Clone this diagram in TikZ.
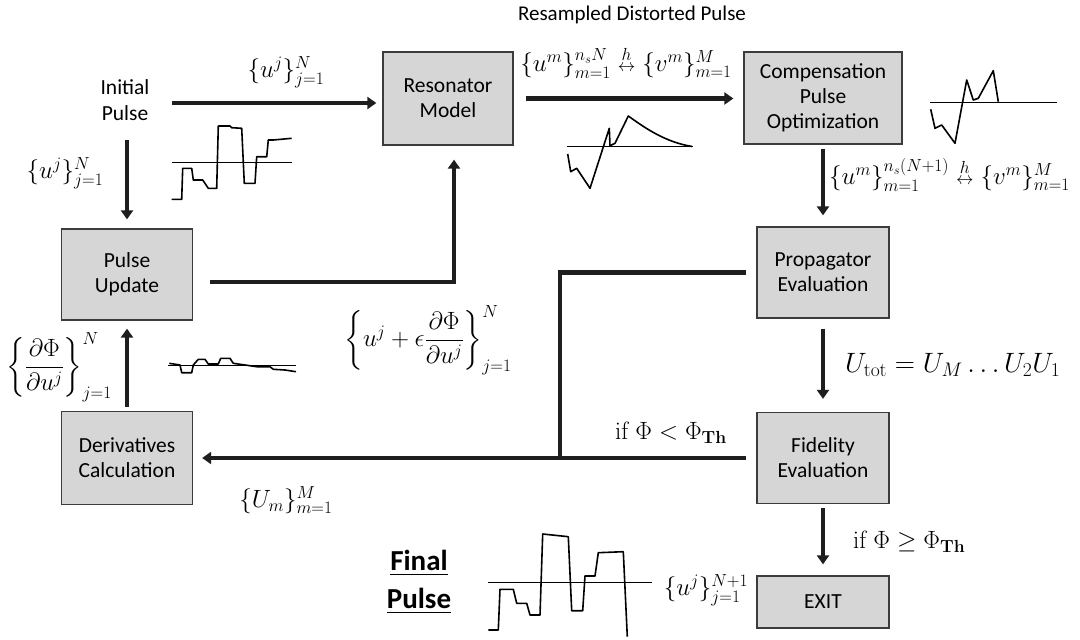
\RequirePackage{fix-cm}
\documentclass[tikz,border=0pt]{standalone}
\usepackage{amsmath}
\usepackage[no-math]{fontspec}
\setmainfont{Carlito}
\usetikzlibrary{arrows.meta}
\definecolor{boxgray}{RGB}{214,214,214}
\definecolor{boxline}{RGB}{60,60,60}
\definecolor{arrowc}{RGB}{30,30,30}
\begin{document}
\begin{tikzpicture}[x=1pt,y=-1pt,
  box/.style={draw=boxline, line width=1.3pt, fill=boxgray, align=center,
    font=\fontsize{21.5}{25}\selectfont, inner sep=0pt},
  flow/.style={line width=4.5pt, draw=arrowc, -{Triangle[width=12pt,length=9pt]}},
  wire/.style={line width=4.5pt, draw=arrowc},
  pulse/.style={line width=1.6pt, line join=round},
  axis/.style={line width=1pt},
  mlab/.style={font=\fontsize{25}{29}\selectfont, inner sep=0pt},
  slab/.style={font=\fontsize{21.5}{25}\selectfont, align=center, inner sep=0pt}
]
\useasboundingbox (0,0) rectangle (1080,640);

% boxes
\node[box, minimum width=130pt, minimum height=93pt] (res) at (448,98.5) {Resonator\\Model};
\node[box, minimum width=158pt, minimum height=92pt] (comp) at (823,98) {Compensation\\Pulse\\Optimization};
\node[box, minimum width=131pt, minimum height=91pt] (pu) at (127,274.5) {Pulse\\Update};
\node[box, minimum width=131pt, minimum height=93pt] (der) at (127,458) {Derivatives\\Calculation};
\node[box, minimum width=132pt, minimum height=91pt] (prop) at (823,272.5) {Propagator\\Evaluation};
\node[box, minimum width=132pt, minimum height=91pt] (fid) at (823,458) {Fidelity\\Evaluation};
\node[box, minimum width=132pt, minimum height=52pt] (exit) at (823,602) {EXIT};

\node[slab] (init) at (125,100) {Initial\\[1pt]Pulse};

% connectors
\coordinate (a1) at (172,103);
\draw[flow, shorten >=6pt] (a1) -- (a1 -| res.west);
\draw[flow, shorten >=9pt] (pu.north |- 0,140) -- (pu.north);
\draw[flow, shorten >=14pt] ([shift={(17,7.5)}]pu.east) -| ([xshift=6pt]res.south);
\draw[flow, shorten <=12pt, shorten >=10pt] (res.east) -- (res.east -| comp.west);
\draw[flow, shorten <=4pt, shorten >=11pt] (comp.south) -- (prop.north);
\draw[flow, shorten <=10pt, shorten >=13pt] (prop.south) -- (fid.north);
\coordinate (jn) at (560,458);
\draw[wire] ([xshift=-10pt]prop.west) -| (jn);
\draw[flow, shorten <=10pt, shorten >=9pt] (fid.west) -- (der.east);
\draw[flow, shorten <=4pt, shorten >=8pt] (der.north) -- (pu.south);
\draw[flow, shorten <=4pt, shorten >=11pt] (fid.south) -- (exit.north);

% labels
\node[mlab] (l1) at (286,72) {$\{u^j\}_{j=1}^{N}$};
\node[mlab] (l2) at (65,173) {$\{u^j\}_{j=1}^{N}$};
\node[font=\fontsize{21}{24}\selectfont, inner sep=0pt] (rdp) at (632,15) {Resampled Distorted Pulse};
\node[mlab] (l3) at (626,62) {$\{u^m\}_{m=1}^{n_sN}\mathrel{\overset{h}{\scriptstyle\leftrightarrow}}\{v^m\}_{m=1}^{M}$};
\node[mlab, anchor=west] (l4) at (829,175) {$\{u^m\}_{m=1}^{n_s(N+1)}\mathrel{\overset{h}{\scriptstyle\leftrightarrow}}\{v^m\}_{m=1}^{M}$};
\node[mlab, anchor=west, font=\fontsize{28}{32}\selectfont] (l5) at (845,365) {$U_{\mathrm{tot}}=U_M\ldots U_2U_1$};
\node[mlab] (l6) at (671,433) {$\mathrm{if}\ \Phi<\Phi_{\mathbf{Th}}$};
\node[mlab, anchor=west] (l7) at (853,542) {$\mathrm{if}\ \Phi\geq\Phi_{\mathbf{Th}}$};
\node[mlab] (l8) at (286,500) {$\{U_m\}_{m=1}^{M}$};
\node[mlab] (l9) at (59,367) {$\left\{\dfrac{\partial\Phi}{\partial u^j}\right\}_{j=1}^{N}$};
\node[mlab] (l10) at (428,340) {$\left\{u^j+\epsilon\dfrac{\partial\Phi}{\partial u^j}\right\}_{j=1}^{N}$};
\node[mlab] (l11) at (706,590) {$\{u^j\}_{j=1}^{N+1}$};
\node[font=\fontsize{29}{38}\selectfont\bfseries, align=center, inner sep=0pt] (fp) at (419,582) {\underline{Final}\\\underline{Pulse}};

% pulse 1 (initial)
\draw[axis] (171.7,162.3) -- (291.7,162.3);
\draw[pulse] (171.7,199.3) -- (181.7,199.3) -- (182.7,168.3) -- (191.7,168.3) -- (193.3,180) -- (202.7,180) -- (208.3,188.3) -- (216.7,188.3) -- (218.3,126) -- (230,126) -- (231.7,127.7) -- (241.7,128.3) -- (244.3,183.3) -- (255,183.3) -- (256.7,156.7) -- (266.7,156.7) -- (268.3,140) -- (273.3,140) -- (291.7,138.3);

% pulse 2 (distorted)
\draw[axis] (566.7,146.7) -- (693.3,146.7);
\draw[pulse] (567.7,154) -- (570.7,171.7) -- (576.7,168.3) -- (590,188.3) -- (609.3,128.3) -- (610,145.7) -- (615,143.3) -- (628.3,116) .. controls (645,128) and (665,142) .. (692,146.5);

% pulse 3 (compensation)
\draw[axis] (930,102.3) -- (1056.7,102.3);
\draw[pulse] (930.7,109.3) -- (935,128.3) -- (941.7,125) -- (955,143.3) -- (966.7,80) -- (973.3,100) -- (978.3,98.3) -- (993.3,70.7) -- (998.3,101.7);

% pulse 4 (derivatives)
\draw[axis] (168.3,365) -- (296,365);
\draw[pulse] (169.3,363.3) -- (180,365) -- (181.7,372.7) -- (191.7,372.7) -- (193.3,365) -- (198.3,359.3) -- (205,359.3) -- (208.3,364) -- (218.3,364) -- (220.7,358.3) -- (230,358.3) -- (233.3,363.3) -- (245,365) -- (256.7,366.7) -- (270,366.7) -- (273.3,369.3) -- (285,370) -- (296,371.7);

% pulse 5 (final)
\draw[axis] (488.3,582.7) -- (651.7,582.7);
\draw[pulse] (488.3,630) -- (498.3,630) -- (500,589.3) -- (513.3,589.3) -- (516.7,603.3) -- (526.7,603.3) -- (530,615) -- (540,615) -- (542.7,534) -- (568.3,536.7) -- (571.7,610.7) -- (582.7,610.7) -- (585,576) -- (595,576) -- (598.3,552.7) -- (623.3,551.7) -- (627.3,636.7);
\end{tikzpicture}
\end{document}
